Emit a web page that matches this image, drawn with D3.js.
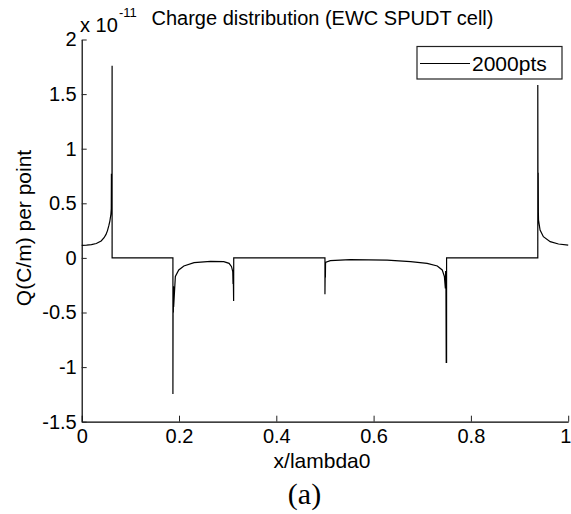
<!DOCTYPE html>
<html>
<head>
<meta charset="utf-8">
<script src="https://cdn.jsdelivr.net/npm/d3@7"></script>
<style>
  body { margin: 0; background: #fff; }
  svg { display: block; }
  text { font-family: "Liberation Sans", Arial, sans-serif; fill: #000; }
</style>
</head>
<body>
<svg id="chart" width="571" height="514"></svg>
<script>
// x/lambda0 positions and charge (units of 1e-11 C/m)
const qx = [
  0, 0.01, 0.02, 0.03, 0.04, 0.046, 0.05, 0.053, 0.056, 0.058, 0.06, 0.0608,
  0.0611, 0.0614, 0.0617, 0.062, 0.0623, 0.0625, 0.0625,
  0.1875, 0.1875, 0.1878, 0.1881, 0.1884, 0.1887, 0.189, 0.1925, 0.1995, 0.21,
  0.231, 0.265, 0.292, 0.303, 0.308, 0.3105, 0.3111, 0.3115, 0.3119, 0.3123, 0.3125,
  0.5, 0.5, 0.5003, 0.5006, 0.5009, 0.5012, 0.502, 0.511, 0.552, 0.628, 0.676,
  0.71, 0.731, 0.741, 0.7455, 0.7475, 0.7481, 0.7487, 0.7493, 0.75, 0.75,
  0.9375, 0.9375, 0.9378, 0.9381, 0.9384, 0.9387, 0.939, 0.9422, 0.949, 0.963,
  0.98, 1
];
const qv = [
  0.115, 0.117, 0.122, 0.132, 0.155, 0.185, 0.215, 0.25, 0.30, 0.34, 0.40, 0.45,
  0.77, 0.47, 0.76, 0.5, 0.77, 1.76, 0,
  0, -1.246, -0.52, -0.28, -0.5, -0.26, -0.45, -0.17, -0.11, -0.074,
  -0.044, -0.031, -0.035, -0.05, -0.08, -0.126, -0.24, -0.14, -0.26, -0.395, 0,
  0, -0.333, -0.2, -0.06, -0.18, -0.05, -0.04, -0.025, -0.016, -0.02, -0.035,
  -0.05, -0.074, -0.11, -0.17, -0.28, -0.12, -0.27, -0.956, -0.956, 0,
  0, 1.583, 0.79, 0.42, 0.78, 0.41, 0.347, 0.255, 0.194, 0.149,
  0.127, 0.117
];
const xTicks = [0, 0.2, 0.4, 0.6, 0.8, 1];
const xTickLabels = ["0", "0.2", "0.4", "0.6", "0.8", "1"];
const yTicks = [-1.5, -1, -0.5, 0, 0.5, 1, 1.5, 2];
const yTickLabels = ["-1.5", "-1", "-0.5", "0", "0.5", "1", "1.5", "2"];
const seriesName = "2000pts";

const svg = d3.select("#chart");

const x = d3.scaleLinear().domain([0, 1]).range([81.7, 568.2]);
const y = d3.scaleLinear().domain([-1.5, 2]).range([421.7, 39.5]);

// axes (inward ticks, no box)
const xAxis = d3.axisBottom(x)
  .tickValues(xTicks)
  .tickFormat((d, i) => xTickLabels[i])
  .tickSizeInner(-6)
  .tickSizeOuter(0)
  .tickPadding(7);

const yAxis = d3.axisLeft(y)
  .tickValues(yTicks)
  .tickFormat((d, i) => yTickLabels[i])
  .tickSizeInner(-5)
  .tickSizeOuter(0)
  .tickPadding(5);

const gx = svg.append("g")
  .attr("transform", `translate(0,${y(-1.5)})`)
  .call(xAxis);
const gy = svg.append("g")
  .attr("transform", `translate(${x(0)},0)`)
  .call(yAxis);

[gx, gy].forEach((g) => {
  g.select(".domain").attr("stroke", "#000").attr("stroke-width", 1.2);
  g.selectAll(".tick line").attr("stroke", "#222").attr("stroke-width", 1);
  g.selectAll(".tick text")
    .attr("font-size", "20px")
    .attr("font-family", '"Liberation Sans", Arial, sans-serif')
    .attr("fill", "#000");
});
// last x label sits at the window edge; keep it inside
gx.selectAll(".tick text").filter((d) => d === 1).attr("dx", -3);

// data line
const pts = qx.map((d, i) => [d, qv[i]]);
const line = d3.line()
  .x((d) => x(d[0]))
  .y((d) => y(d[1]));

svg.append("path")
  .datum(pts)
  .attr("fill", "none")
  .attr("stroke", "#000")
  .attr("stroke-width", 1.2)
  .attr("stroke-linejoin", "miter")
  .attr("d", line);

// exponent label
svg.append("text")
  .attr("x", 80)
  .attr("y", 31.7)
  .attr("font-size", "20px")
  .text("x 10");
svg.append("text")
  .attr("x", 119)
  .attr("y", 17)
  .attr("font-size", "13px")
  .text("-11");

// title
svg.append("text")
  .attr("x", 322.5)
  .attr("y", 25)
  .attr("text-anchor", "middle")
  .attr("font-size", "20px")
  .text("Charge distribution (EWC SPUDT cell)");

// axis labels
svg.append("text")
  .attr("x", 322)
  .attr("y", 468)
  .attr("text-anchor", "middle")
  .attr("font-size", "21px")
  .text("x/lambda0");

svg.append("text")
  .attr("transform", "translate(31,228) rotate(-90)")
  .attr("text-anchor", "middle")
  .attr("font-size", "21px")
  .text("Q(C/m) per point");

// legend
const leg = svg.append("g");
leg.append("rect")
  .attr("x", 417)
  .attr("y", 46.5)
  .attr("width", 145)
  .attr("height", 32.5)
  .attr("fill", "#fff")
  .attr("stroke", "#222")
  .attr("stroke-width", 1.2);
leg.append("line")
  .attr("x1", 420)
  .attr("x2", 470)
  .attr("y1", 63.5)
  .attr("y2", 63.5)
  .attr("stroke", "#000")
  .attr("stroke-width", 1);
leg.append("text")
  .attr("x", 472)
  .attr("y", 71)
  .attr("font-size", "21px")
  .text(seriesName);

// sub-figure caption
svg.append("text")
  .attr("x", 304.5)
  .attr("y", 504)
  .attr("text-anchor", "middle")
  .attr("font-size", "30px")
  .style("font-family", '"Liberation Serif", "Times New Roman", serif')
  .text("(a)");
</script>
</body>
</html>
